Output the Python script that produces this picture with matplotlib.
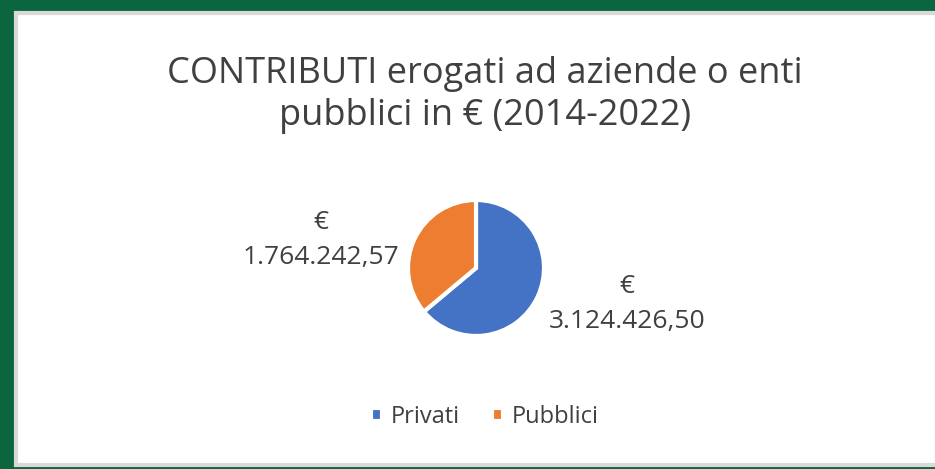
import matplotlib.pyplot as plt
from matplotlib.patches import Rectangle

# data
categorie = ['Privati', 'Pubblici']
valori = [3124426.50, 1764242.57]
etichette = ['€\n3.124.426,50', '€\n1.764.242,57']
colori = ['#4472C4', '#ED7D31']

plt.rcParams['font.family'] = ['Open Sans', 'DejaVu Sans']

fig = plt.figure(figsize=(9.35, 4.69), dpi=100)
fig.patch.set_facecolor('#0B6640')

# white chart area with a light gray border
W, H = 935, 469
fig.patches.append(Rectangle((16 / W, 4.5 / H), (W - 14) / W, 451 / H,
                             transform=fig.transFigure, facecolor='white',
                             edgecolor='#D9D9D9', linewidth=3, zorder=-1))

fig.text(485 / W, 1 - 95 / H, 'CONTRIBUTI erogati ad aziende o enti\npubblici in € (2014-2022)',
         ha='center', va='center', fontsize=26, color='#404040', linespacing=1.22)

ax = fig.add_axes([(476 - 68) / W, 1 - (268 + 68) / H, 136 / W, 136 / H])
ax.set_zorder(2)
wedges, _ = ax.pie(valori, colors=colori, startangle=90, counterclock=False,
                   wedgeprops=dict(edgecolor='white', linewidth=3))
ax.set_xlim(-1.0, 1.0)
ax.set_ylim(-1.0, 1.0)
ax.set_aspect('equal')

fig.text(627 / W, 1 - 304 / H, etichette[0], ha='center', va='center',
         fontsize=19, color='#404040', linespacing=1.55)
fig.text(321 / W, 1 - 240 / H, etichette[1], ha='center', va='center',
         fontsize=19, color='#404040', linespacing=1.55)

fig.legend(wedges, categorie, loc='center', bbox_to_anchor=(485 / W, 1 - 417 / H),
           ncol=2, frameon=False, fontsize=17, handlelength=0.45, handleheight=0.45,
           handletextpad=0.4, columnspacing=1.35, labelcolor='#404040')

fig.savefig('out.png', dpi=100, facecolor=fig.get_facecolor())
